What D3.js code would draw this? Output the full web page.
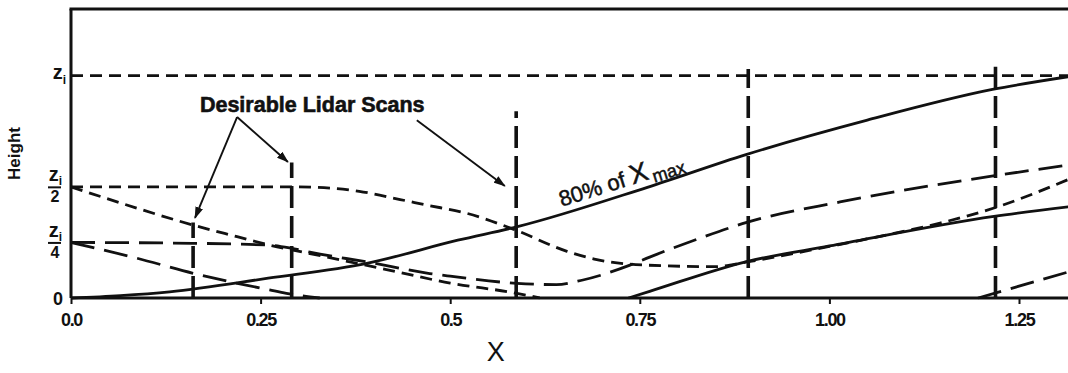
<!DOCTYPE html>
<html><head><meta charset="utf-8">
<script src="https://cdn.jsdelivr.net/npm/d3@7"></script>
<style>html,body{margin:0;padding:0;background:#fff;} svg{display:block;}</style>
</head><body><svg id="chart" width="1068" height="373"></svg>
<script>
// ---------- data (X in units of X, height in units of z_i) ----------
const xTicks = [0, 0.25, 0.5, 0.75, 1.0, 1.25];
const xTickLabels = ["0.0", "0.25", "0.5", "0.75", "1.00", "1.25"];
const yTicks = [0, 0.25, 0.5, 1];
const yTickDenoms = ["", "4", "2", ""];

const ziLine = [[0, 1], [1.32, 1]];
// ground source (solid)
const groundUpper = [[0,0],[0.065,0.011],[0.13,0.028],[0.26,0.089],[0.39,0.156],[0.51,0.26],[0.59,0.322],[0.76,0.498],[0.89,0.645],[1.05,0.8],[1.215,0.938],[1.32,0.998]];
const groundLower = [[0.735,0],[0.763,0.03],[0.891,0.164],[1.0,0.234],[1.217,0.367],[1.32,0.412]];
// source at z_i/2 (short dash)
const midUpper = [[0,0.5],[0.3,0.5],[0.38,0.48],[0.434,0.443],[0.469,0.418],[0.522,0.381],[0.583,0.31],[0.654,0.21],[0.69,0.175],[0.757,0.148],[0.85,0.141],[0.891,0.162],[1.0,0.232],[1.093,0.296],[1.146,0.337],[1.217,0.405],[1.32,0.54]];
const midLower = [[0,0.5],[0.087,0.404],[0.161,0.328],[0.219,0.276],[0.262,0.238],[0.315,0.2],[0.416,0.128],[0.5,0.067],[0.588,0.021],[0.618,0]];
// source at z_i/4 (long dash)
const quarterUpper = [[0,0.25],[0.16,0.246],[0.262,0.238],[0.293,0.222],[0.315,0.206],[0.394,0.16],[0.473,0.11],[0.5,0.098],[0.588,0.066],[0.64,0.06],[0.675,0.081],[0.737,0.148],[0.763,0.184],[0.83,0.27],[0.891,0.34],[1.014,0.432],[1.216,0.549],[1.32,0.6]];
const quarterLower = [[0,0.25],[0.087,0.179],[0.161,0.111],[0.21,0.073],[0.262,0.036],[0.284,0.021],[0.328,0]];
const quarterReturn = [[1.196,0],[1.32,0.122]];
// desirable lidar scans
const scanX = [0.161, 0.291, 0.587, 0.893, 1.219];
const scanTop = [0.34, 0.61, 0.84, 1.03, 1.04];

// ---------- layout ----------
const svg = d3.select("#chart");
const W = 1068, H = 373;
svg.append("rect").attr("width", W).attr("height", H).attr("fill", "#fff");
const x = d3.scaleLinear().domain([0, 1.25]).range([71, 1019]);
const y = d3.scaleLinear().domain([0, 1.3]).range([298, 298 - 1.3 * 222.3]);
const ink = "#111";
const FONT = "'Liberation Sans', Arial, Helvetica, sans-serif";

const line = d3.line().x(d => x(d[0])).y(d => y(d[1])).curve(d3.curveMonotoneX);

const SHORT = "12,7", LONG = "24,10";
function drawCurve(data, dash) {
  svg.append("path").datum(data)
    .attr("d", line).attr("fill", "none").attr("stroke", ink)
    .attr("stroke-width", 2.8).attr("stroke-dasharray", dash || null);
}
drawCurve(ziLine, SHORT);
drawCurve(midUpper, SHORT);
drawCurve(midLower, SHORT);
drawCurve(quarterUpper, LONG);
drawCurve(quarterLower, LONG);
drawCurve(quarterReturn, LONG);
drawCurve(groundUpper, null);
drawCurve(groundLower, null);

// scan lines
svg.append("g").selectAll("line").data(scanX).join("line")
  .attr("x1", d => x(d)).attr("x2", d => x(d))
  .attr("y1", y(0)).attr("y2", (d, i) => y(scanTop[i]))
  .attr("stroke", ink).attr("stroke-width", 3.6).attr("stroke-dasharray", "22,8");

// frame & axes
const xAxis = d3.axisBottom(x).tickValues(xTicks)
  .tickFormat((d, i) => xTickLabels[i]).tickSizeInner(6).tickSizeOuter(0).tickPadding(9);
const gx = svg.append("g").attr("transform", `translate(0,${y(0)})`).call(xAxis);
gx.select(".domain").attr("d", `M${x(0)},0H${W + 10}`).attr("stroke", ink).attr("stroke-width", 3);
gx.selectAll(".tick line").attr("stroke", ink).attr("stroke-width", 2);
gx.selectAll(".tick text").attr("font-family", FONT).attr("font-size", 18).attr("font-weight", "bold")
  .attr("fill", ink).attr("letter-spacing", "-1.3px");

const yAxis = d3.axisLeft(y).tickValues(yTicks).tickFormat(() => "").tickSize(0);
const gy = svg.append("g").attr("transform", `translate(${x(0)},0)`).call(yAxis);
gy.select(".domain").attr("d", `M0,${y(0)}V${y(1.3)}`).attr("stroke", ink).attr("stroke-width", 3);
svg.append("line").attr("x1", x(0) - 1.5).attr("x2", W + 10).attr("y1", y(1.3)).attr("y2", y(1.3))
  .attr("stroke", ink).attr("stroke-width", 3);

// custom y tick labels
gy.selectAll(".tick").each(function (d, i) {
  const g = d3.select(this);
  if (d === 0) {
    g.append("text").attr("x", -8).attr("y", 6).attr("text-anchor", "end")
      .attr("font-family", FONT).attr("font-weight", "bold").attr("font-size", 18).attr("fill", ink).text("0");
  } else if (d === 1) {
    const t = g.append("text").attr("x", -5).attr("y", 3).attr("text-anchor", "end")
      .attr("font-family", FONT).attr("font-weight", "bold").attr("fill", ink);
    t.append("tspan").attr("font-size", 20).text("z");
    t.append("tspan").attr("font-size", 12).attr("dy", 5).text("i");
  } else {
    const t = g.append("text").attr("x", -9).attr("y", -6).attr("text-anchor", "end")
      .attr("font-family", FONT).attr("font-weight", "bold").attr("fill", ink);
    t.append("tspan").attr("font-size", 20).text("z");
    t.append("tspan").attr("font-size", 12).attr("dy", 4).text("i");
    g.append("line").attr("x1", -23).attr("x2", -10).attr("y1", 0).attr("y2", 0)
      .attr("stroke", ink).attr("stroke-width", 2);
    g.append("text").attr("x", -16).attr("y", 15).attr("text-anchor", "middle")
      .attr("font-family", FONT).attr("font-weight", "bold").attr("font-size", 16).attr("fill", ink)
      .text(yTickDenoms[i]);
  }
});

// axis titles
svg.append("text").attr("transform", `translate(20,${y(0.65)}) rotate(-90)`)
  .attr("text-anchor", "middle").attr("font-family", FONT).attr("font-weight", "bold")
  .attr("font-size", 17).attr("fill", ink).text("Height");
svg.append("text").attr("x", x(0.56)).attr("y", 361).attr("text-anchor", "middle")
  .attr("font-family", FONT).attr("font-size", 27).attr("fill", ink).text("X");

// annotation
const defs = svg.append("defs");
defs.append("marker").attr("id", "ah").attr("viewBox", "0 0 12 8").attr("refX", 11).attr("refY", 4)
  .attr("markerWidth", 12).attr("markerHeight", 8).attr("markerUnits", "userSpaceOnUse")
  .attr("orient", "auto").append("path").attr("d", "M0,0 L12,4 L0,8 Z").attr("fill", ink);

const noteText = "Desirable Lidar Scans";
const notePos = [0.17, 0.837];
const arrowTails = [[0.219, 0.814], [0.219, 0.814], [0.456, 0.80]];
const arrowHeads = [[0.1635, 0.36], [0.286, 0.612], [0.572, 0.504]];
svg.append("text").attr("x", x(notePos[0])).attr("y", y(notePos[1]))
  .attr("font-family", FONT).attr("font-weight", "bold").attr("font-size", 21.5).attr("fill", ink)
  .attr("stroke", ink).attr("stroke-width", 0.6)
  .text(noteText);
svg.append("g").selectAll("line").data(arrowTails).join("line")
  .attr("x1", d => x(d[0])).attr("y1", d => y(d[1]))
  .attr("x2", (d, i) => x(arrowHeads[i][0])).attr("y2", (d, i) => y(arrowHeads[i][1]))
  .attr("stroke", ink).attr("stroke-width", 1.9).attr("marker-end", "url(#ah)");

// curve label
const lblPos = [0.647, 0.41];
const p1 = [x(0.59), y(0.322)], p2 = [x(0.89), y(0.645)];
const ang = Math.atan2(p2[1] - p1[1], p2[0] - p1[0]) * 180 / Math.PI;
const lt = svg.append("text").attr("transform", `translate(${x(lblPos[0])},${y(lblPos[1])}) rotate(${ang})`)
  .attr("font-family", FONT).attr("fill", ink).attr("stroke", ink).attr("stroke-width", 0.5);
lt.append("tspan").attr("font-size", 22).text("80% of ");
lt.append("tspan").attr("font-size", 27).text("X");
lt.append("tspan").attr("font-size", 18).attr("dx", 3).attr("dy", 5).text("max");
</script></body></html>
